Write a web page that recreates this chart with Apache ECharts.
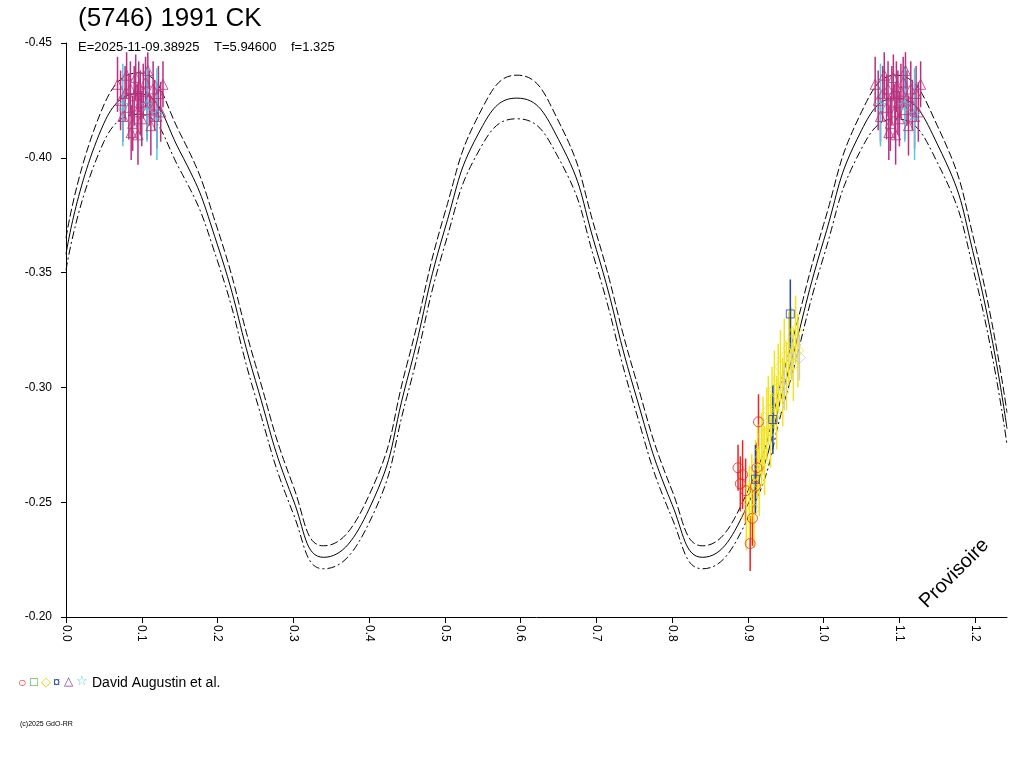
<!DOCTYPE html>
<html><head><meta charset="utf-8">
<script src="https://cdn.jsdelivr.net/npm/echarts@6/dist/echarts.min.js"></script>
<style>html,body{margin:0;background:#fff}#c{width:1024px;height:768px}</style>
</head><body><div id="c"></div>
<script>
const phaseX=[0,0.05,0.095,0.15,0.2,0.25,0.3,0.34,0.4,0.45,0.5,0.55,0.595,0.65,0.7,0.75,0.8,0.84,0.9,0.95,1.0,1.05,1.095,1.15,1.2,1.242];
const fitMid=[-0.358,-0.415,-0.428,-0.403,-0.362,-0.303,-0.251,-0.226,-0.247,-0.303,-0.369,-0.414,-0.426,-0.408,-0.360,-0.299,-0.249,-0.226,-0.249,-0.303,-0.364,-0.412,-0.426,-0.406,-0.355,-0.282];
const fitHi=[-0.365,-0.423,-0.437,-0.411,-0.369,-0.310,-0.257,-0.231,-0.253,-0.310,-0.376,-0.422,-0.436,-0.416,-0.367,-0.306,-0.255,-0.231,-0.255,-0.310,-0.371,-0.420,-0.436,-0.414,-0.362,-0.289];
const fitLo=[-0.351,-0.407,-0.419,-0.395,-0.355,-0.296,-0.245,-0.221,-0.241,-0.296,-0.362,-0.406,-0.417,-0.400,-0.353,-0.292,-0.243,-0.221,-0.243,-0.296,-0.357,-0.404,-0.417,-0.398,-0.348,-0.275];
// [phase, mag, error]
const magenta=[[0.068,-0.432,0.012],[0.072,-0.425,0.013],[0.075,-0.418,0.011],[0.078,-0.428,0.012],[0.080,-0.436,0.010],[0.083,-0.422,0.014],[0.085,-0.430,0.012],[0.088,-0.415,0.012],[0.090,-0.427,0.013],[0.092,-0.435,0.010],[0.094,-0.420,0.012],[0.096,-0.431,0.011],[0.098,-0.424,0.014],[0.100,-0.417,0.012],[0.102,-0.429,0.012],[0.105,-0.433,0.011],[0.107,-0.421,0.013],[0.110,-0.426,0.012],[0.112,-0.414,0.013],[0.115,-0.430,0.012],[0.117,-0.423,0.011],[0.120,-0.418,0.014],[0.122,-0.428,0.012],[0.125,-0.420,0.013],[0.128,-0.432,0.010],[0.086,-0.411,0.012],[0.108,-0.438,0.008],[0.095,-0.410,0.013]];
const cyan=[[0.075,-0.423,0.018],[0.107,-0.423,0.016],[0.120,-0.419,0.020]];
const yellow=[[0.898,-0.244,0.015],[0.902,-0.250,0.016],[0.905,-0.256,0.015],[0.908,-0.247,0.017],[0.910,-0.262,0.015],[0.913,-0.268,0.016],[0.915,-0.259,0.015],[0.918,-0.273,0.016],[0.920,-0.279,0.017],[0.922,-0.268,0.015],[0.925,-0.284,0.016],[0.927,-0.290,0.015],[0.930,-0.281,0.016],[0.932,-0.294,0.015],[0.935,-0.299,0.017],[0.938,-0.289,0.016],[0.940,-0.304,0.015],[0.943,-0.309,0.016],[0.946,-0.298,0.015],[0.948,-0.313,0.017],[0.951,-0.305,0.015],[0.954,-0.317,0.016],[0.957,-0.320,0.015],[0.960,-0.310,0.016],[0.963,-0.325,0.015],[0.966,-0.316,0.016]];
const red=[[0.887,-0.265,0.010],[0.890,-0.258,0.012],[0.893,-0.262,0.015],[0.897,-0.255,0.014],[0.903,-0.232,0.012],[0.906,-0.243,0.012],[0.910,-0.257,0.010],[0.914,-0.285,0.012],[0.912,-0.265,0.011]];
const blue=[[0.956,-0.332,0.015],[0.933,-0.286,0.015],[0.910,-0.260,0.015]];
const gray=[[0.958,-0.313,0.010],[0.968,-0.313,0.010],[0.948,-0.300,0.010]];
const xTicks=[0,0.1,0.2,0.3,0.4,0.5,0.6,0.7,0.8,0.9,1.0,1.1,1.2];
const yTicks=[-0.45,-0.40,-0.35,-0.30,-0.25,-0.20];

function both(a){return a.concat(a.map(p=>[p[0]+1,p[1],p[2]]));}
function errSeries(data,color){
  return {type:'custom',data:data,clip:false,z:2,renderItem:(p,api)=>{
    const x=api.value(0),y=api.value(1),e=api.value(2);
    const a=api.coord([x,y-e]),b=api.coord([x,y+e]);
    return {type:'line',shape:{x1:a[0],y1:a[1],x2:b[0],y2:b[1]},style:{stroke:color,lineWidth:1.5}};
  }};
}
function pts(data,color,sym,size){
  return {type:'scatter',data:data.map(p=>[p[0],p[1]]),symbol:sym,symbolSize:size,clip:false,z:3,
    itemStyle:{color:'transparent',borderColor:color,borderWidth:1}};
}
function fit(y,dash){return {type:'line',data:phaseX.map((x,i)=>[x,y[i]]),smooth:0.5,symbol:'none',
  lineStyle:{color:'#000',width:1,type:dash||'solid'},z:1};}
const star='path://M0,-10L2.9,-4L9.5,-3.1L4.7,1.5L5.9,8.1L0,5L-5.9,8.1L-4.7,1.5L-9.5,-3.1L-2.9,-4Z';
const m=both(magenta),c=both(cyan);
const chart=echarts.init(document.getElementById('c'));
chart.setOption({
  animation:false,
  grid:{left:66,right:17,top:43,bottom:151},
  xAxis:{type:'value',min:0,max:1.242,interval:0.1,
    axisLine:{lineStyle:{color:'#000'}},axisTick:{length:6,lineStyle:{color:'#000'}},
    splitLine:{show:false},
    axisLabel:{rotate:-90,color:'#000',fontFamily:'Arial',fontSize:12,margin:8,formatter:v=>v.toFixed(1),showMaxLabel:false}},
  yAxis:{type:'value',inverse:true,min:-0.45,max:-0.20,interval:0.05,offset:6,
    axisLine:{show:true,lineStyle:{color:'#000'}},axisTick:{show:true,length:5,lineStyle:{color:'#000'}},
    splitLine:{show:false},axisLabel:{color:'#000',fontFamily:'Arial',fontSize:12,formatter:v=>v.toFixed(2)}},
  series:[fit(fitMid),fit(fitHi,[8,3]),fit(fitLo,[8,3,2,3]),
    errSeries(m,'#b8307f'),pts(m,'#b8307f','triangle',10),
    errSeries(c,'#55c8dc'),pts(c,'#55c8dc',star,11),
    errSeries(red,'#ee2222'),pts(red,'#ee2222','circle',10),
    errSeries(yellow,'#f2e41c'),pts(yellow,'#f2e41c','diamond',12),
    errSeries(blue,'#2244aa'),pts(blue,'#2244aa','rect',8),
    errSeries(gray,'#cccccc'),pts(gray,'#cccccc','diamond',12)],
  graphic:[
    {type:'text',left:78,top:6,style:{text:'(5746) 1991 CK',fontSize:26,fontFamily:'Arial',fill:'#000'}},
    {type:'text',left:78,top:41,style:{text:'E=2025-11-09.38925    T=5.94600    f=1.325',fontSize:13,fontFamily:'Arial',fill:'#000'}},
    {type:'text',x:930,y:612,rotation:Math.PI/4,style:{text:'Provisoire',fontSize:20,fontFamily:'Arial',fill:'#000',textVerticalAlign:'bottom'}},
    {type:'text',left:18,top:676,style:{text:'○',fontSize:14,fill:'#ee2222'}},
    {type:'text',left:30,top:676,style:{text:'□',fontSize:13,fill:'#22aa22'}},
    {type:'text',left:41,top:676,style:{text:'◇',fontSize:13,fill:'#e0d010'}},
    {type:'text',left:53,top:676,style:{text:'¤',fontSize:13,fill:'#2244aa'}},
    {type:'text',left:64,top:676,style:{text:'△',fontSize:12,fill:'#8844aa'}},
    {type:'text',left:76,top:675,style:{text:'☆',fontSize:13,fill:'#55c8dc'}},
    {type:'text',left:92,top:676,style:{text:'David Augustin et al.',fontSize:14,fontFamily:'Arial',fill:'#000'}},
    {type:'text',left:20,top:721,style:{text:'(c)2025 GdO-RR',fontSize:7,fontFamily:'Arial',fill:'#000'}}
  ]
});
</script></body></html>
